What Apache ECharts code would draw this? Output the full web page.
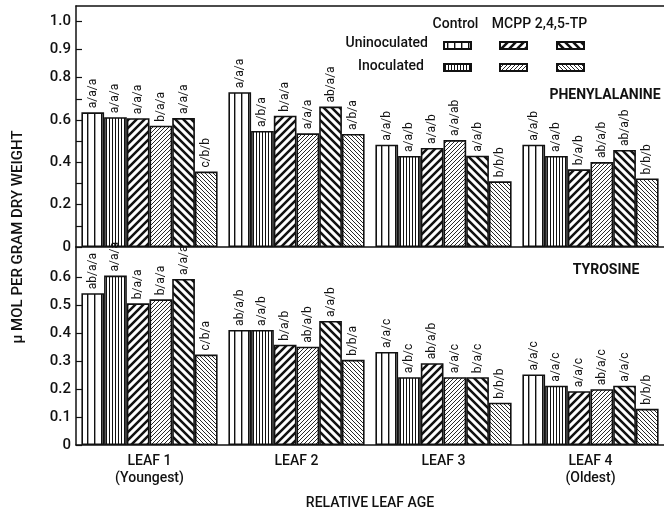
<!DOCTYPE html>
<html>
<head>
<meta charset="utf-8">
<script src="https://cdn.jsdelivr.net/npm/echarts@6/dist/echarts.min.js"></script>
<style>
  html, body { margin: 0; padding: 0; background: #fff; }
  #chart { width: 664px; height: 513px; }
</style>
</head>
<body>
<div id="chart"></div>
<script>
// ---------------- DATA ----------------
const leaves = ['LEAF 1\n(Youngest)', 'LEAF 2', 'LEAF 3', 'LEAF 4\n(Oldest)'];
const treatments = ['Uninoculated Control', 'Inoculated Control', 'Uninoculated MCPP', 'Inoculated MCPP', 'Uninoculated 2,4,5-TP', 'Inoculated 2,4,5-TP'];
const rowNames = ['Uninoculated', 'Inoculated'];
const colNames = ['Control', 'MCPP', '2,4,5-TP'];

// Phenylalanine (umol per g dry weight), one array per treatment, leaves 1..4
const pheUninocControl = [0.636, 0.731, 0.483, 0.483];
const pheInocControl   = [0.613, 0.548, 0.430, 0.430];
const pheUninocMCPP    = [0.608, 0.620, 0.468, 0.367];
const pheInocMCPP      = [0.573, 0.537, 0.505, 0.401];
const pheUninocTP      = [0.609, 0.663, 0.431, 0.458];
const pheInocTP        = [0.356, 0.534, 0.310, 0.324];

// Tyrosine
const tyrUninocControl = [0.542, 0.411, 0.332, 0.252];
const tyrInocControl   = [0.605, 0.411, 0.242, 0.212];
const tyrUninocMCPP    = [0.506, 0.358, 0.292, 0.192];
const tyrInocMCPP      = [0.520, 0.351, 0.242, 0.199];
const tyrUninocTP      = [0.593, 0.443, 0.242, 0.212];
const tyrInocTP        = [0.323, 0.304, 0.151, 0.129];

// Significance letters
const pheLetUninocControl = ['a/a/a', 'a/a/a', 'a/a/b', 'a/a/b'];
const pheLetInocControl   = ['a/a/a', 'a/b/a', 'a/a/b', 'a/a/b'];
const pheLetUninocMCPP    = ['a/a/a', 'b/a/a', 'a/a/b', 'b/a/b'];
const pheLetInocMCPP      = ['b/a/a', 'a/a/a', 'a/a/ab', 'ab/a/b'];
const pheLetUninocTP      = ['a/a/a', 'ab/a/a', 'a/a/b', 'ab/a/b'];
const pheLetInocTP        = ['c/b/b', 'a/b/a', 'b/b/b', 'b/b/b'];

const tyrLetUninocControl = ['ab/a/a', 'ab/a/b', 'a/a/c', 'a/a/c'];
const tyrLetInocControl   = ['a/a/a', 'a/a/b', 'a/b/c', 'a/a/c'];
const tyrLetUninocMCPP    = ['b/a/a', 'b/a/b', 'ab/a/b', 'a/a/c'];
const tyrLetInocMCPP      = ['b/a/a', 'ab/a/b', 'a/a/c', 'ab/a/c'];
const tyrLetUninocTP      = ['a/a/a', 'a/a/b', 'b/a/c', 'a/a/c'];
const tyrLetInocTP        = ['c/b/a', 'b/b/a', 'b/b/b', 'b/b/b'];

// Axis tick labels (top panel's printed 0.9 / 1.0 sit on a stretched part of the scale)
const pheTickLabels = ['0', '0.2', '0.4', '0.6', '0.8', '0.9', '1.0'];
const pheTickAt     = [0, 0.2, 0.4, 0.6, 0.8, 0.935, 1.068];
const pheMinorTicks = [0.1, 0.3, 0.5, 0.7];
const tyrTickLabels = ['0', '0.1', '0.2', '0.3', '0.4', '0.5', '0.6'];
const tyrTickAt     = [0, 0.1, 0.2, 0.3, 0.4, 0.5, 0.6];

const pheSeries = [pheUninocControl, pheInocControl, pheUninocMCPP, pheInocMCPP, pheUninocTP, pheInocTP];
const tyrSeries = [tyrUninocControl, tyrInocControl, tyrUninocMCPP, tyrInocMCPP, tyrUninocTP, tyrInocTP];
const pheLetters = [pheLetUninocControl, pheLetInocControl, pheLetUninocMCPP, pheLetInocMCPP, pheLetUninocTP, pheLetInocTP];
const tyrLetters = [tyrLetUninocControl, tyrLetInocControl, tyrLetUninocMCPP, tyrLetInocMCPP, tyrLetUninocTP, tyrLetInocTP];

// ---------------- STYLE ----------------
const FONT = "Roboto, 'Liberation Sans', sans-serif";
const INK = '#111';
const WEIGHT = 500;

function makeTile(kind) {
  const c = document.createElement('canvas');
  let w, h;
  if (kind === 'vWide') { w = 7; h = 4; }
  else if (kind === 'vDense') { w = 3; h = 4; }
  else if (kind === 'slashBold' || kind === 'backBold') { w = h = 8; }
  else { w = h = 4; }
  c.width = w; c.height = h;
  const ctx = c.getContext('2d');
  ctx.fillStyle = '#fff';
  ctx.fillRect(0, 0, w, h);
  ctx.fillStyle = INK; ctx.strokeStyle = INK;
  if (kind === 'vWide') { ctx.fillRect(3, 0, 1.4, h); }
  else if (kind === 'vDense') { ctx.fillRect(1, 0, 1, h); }
  else {
    const s = w;
    ctx.lineWidth = (kind === 'slashBold' || kind === 'backBold') ? 2.5 : 0.9;
    ctx.beginPath();
    if (kind === 'slashBold' || kind === 'slashThin') {
      ctx.moveTo(-1, 1); ctx.lineTo(1, -1);
      ctx.moveTo(0, s); ctx.lineTo(s, 0);
      ctx.moveTo(s - 1, s + 1); ctx.lineTo(s + 1, s - 1);
    } else {
      ctx.moveTo(-1, s - 1); ctx.lineTo(1, s + 1);
      ctx.moveTo(0, 0); ctx.lineTo(s, s);
      ctx.moveTo(s - 1, -1); ctx.lineTo(s + 1, 1);
    }
    ctx.stroke();
  }
  return { image: c, repeat: 'repeat' };
}
const fills = ['vWide', 'vDense', 'slashBold', 'slashThin', 'backBold', 'backThin'].map(makeTile);

const chart = echarts.init(document.getElementById('chart'), null, { renderer: 'canvas' });

function barSeries(values, letters, i, axisIdx) {
  return {
    name: treatments[i],
    type: 'bar',
    xAxisIndex: axisIdx,
    yAxisIndex: axisIdx,
    data: values,
    barWidth: 22.7,
    barGap: '0%',
    itemStyle: { color: fills[i], borderColor: INK, borderWidth: 1.6 },
    label: {
      show: true,
      position: 'top',
      rotate: 90,
      align: 'left',
      verticalAlign: 'middle',
      distance: 4,
      color: INK,
      fontFamily: FONT,
      fontSize: 12,
      formatter: p => letters[p.dataIndex]
    },
    emphasis: { disabled: true }
  };
}

const series = [];
pheSeries.forEach((v, i) => series.push(barSeries(v, pheLetters[i], i, 0)));
tyrSeries.forEach((v, i) => series.push(barSeries(v, tyrLetters[i], i, 1)));

const axisLineStyle = { show: true, lineStyle: { color: INK, width: 1.5 } };
const pick = (vals, labels) => v => {
  const k = vals.findIndex(x => Math.abs(x - v) < 1e-6);
  return k >= 0 ? labels[k] : '';
};

const swatchX = [443, 499, 556];
const swatchY = [41, 63];
const legends = treatments.map((t, i) => ({
  data: [t],
  left: swatchX[Math.floor(i / 2)],
  top: swatchY[i % 2],
  padding: 0,
  itemWidth: 27,
  itemHeight: 7,
  icon: 'rect',
  selectedMode: false,
  formatter: () => '',
  textStyle: { fontSize: 1 }
}));

const txt = (text, x, y, opts) => ({
  type: 'text', x, y, ...(opts && opts.rotation ? { rotation: opts.rotation } : {}),
  style: Object.assign({ text, fill: INK, fontFamily: FONT, fontSize: 14, fontWeight: WEIGHT, align: 'center', verticalAlign: 'middle' }, (opts && opts.style) || {})
});

const option = {
  animation: false,
  backgroundColor: '#fff',
  textStyle: { fontFamily: FONT },
  legend: legends,
  grid: [
    { left: 76, right: -1, top: 6, height: 241 },
    { left: 76, right: -1, top: 247, height: 198 }
  ],
  xAxis: [
    { gridIndex: 0, type: 'category', data: leaves, axisLine: axisLineStyle, axisTick: { show: false }, axisLabel: { show: false } },
    { gridIndex: 1, type: 'category', data: leaves, axisLine: axisLineStyle, axisTick: { show: false },
      axisLabel: { color: INK, fontFamily: FONT, fontSize: 14, fontWeight: WEIGHT, lineHeight: 17, margin: 8 },
      name: 'RELATIVE LEAF AGE', nameLocation: 'middle', nameGap: 51,
      nameTextStyle: { color: INK, fontFamily: FONT, fontSize: 14, fontWeight: WEIGHT } },
    { gridIndex: 0, type: 'category', position: 'top', data: leaves, axisLine: axisLineStyle, axisTick: { show: false }, axisLabel: { show: false } }
  ],
  yAxis: [
    { gridIndex: 0, type: 'value', min: 0, max: 1.138, axisLine: axisLineStyle,
      axisTick: { show: true, inside: true, length: 6, lineStyle: { color: INK, width: 1.2 }, customValues: pheTickAt.concat(pheMinorTicks) },
      axisLabel: { customValues: pheTickAt, formatter: pick(pheTickAt, pheTickLabels), color: INK, fontFamily: FONT, fontSize: 15, fontWeight: WEIGHT, margin: 5 },
      splitLine: { show: false } },
    { gridIndex: 1, type: 'value', min: 0, max: 0.707, axisLine: axisLineStyle,
      axisTick: { show: true, inside: true, length: 6, lineStyle: { color: INK, width: 1.2 }, customValues: tyrTickAt },
      axisLabel: { customValues: tyrTickAt, formatter: pick(tyrTickAt, tyrTickLabels), color: INK, fontFamily: FONT, fontSize: 15, fontWeight: WEIGHT, margin: 5 },
      splitLine: { show: false } }
  ],
  graphic: [
    txt(colNames[0], 455.5, 24),
    txt(colNames[1], 511.5, 24),
    txt(colNames[2], 561, 24),
    txt(rowNames[0], 428, 43, { style: { align: 'right' } }),
    txt(rowNames[1], 424, 66, { style: { align: 'right' } }),
    txt('PHENYLALANINE', 605, 95, { style: { fontWeight: 'bold' } }),
    txt('TYROSINE', 606, 270, { style: { fontWeight: 'bold' } }),
    txt('\u03BC MOL PER GRAM DRY WEIGHT', 18, 237, { rotation: Math.PI / 2, style: { fontSize: 15 } })
  ],
  series
};
chart.setOption(option);
</script>
</body>
</html>
